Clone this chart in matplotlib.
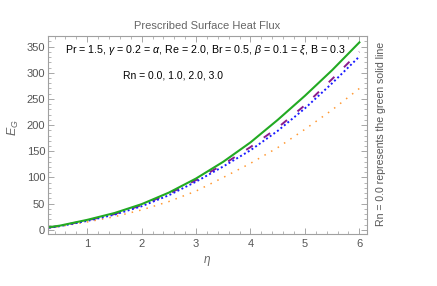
import matplotlib
matplotlib.use("Agg")
import matplotlib.pyplot as plt
from matplotlib.ticker import MultipleLocator

eta = [0.3, 0.5, 1.0, 1.5, 2.0, 2.5, 3.0, 3.5, 4.0, 4.5, 5.0, 5.5, 6.0]
eg_rn0 = [5, 8, 19, 32, 49, 71, 98, 130, 167, 210, 256, 305, 358]      # green solid
eg_rn1 = [4.5, 7.5, 18, 30, 47, 69, 95, 125, 158, 195, 238, 288, 340]  # purple dashed
eg_rn2 = [4, 7, 17, 29, 45, 66, 92, 121, 152, 189, 232, 280, 331]      # blue dotted
eg_rn3 = [4, 6.5, 15, 25, 38, 54, 74, 100, 127, 157, 192, 229, 270]    # orange dotted

xticks = [1, 2, 3, 4, 5, 6]
yticks = [0, 50, 100, 150, 200, 250, 300, 350]

title = "Prescribed Surface Heat Flux"
params = r"Pr = 1.5, $\gamma$ = 0.2 = $\alpha$, Re = 2.0, Br = 0.5, $\beta$ = 0.1 = $\xi$, B = 0.3"
rn_text = "Rn = 0.0, 1.0, 2.0, 3.0"
side_text = "Rn = 0.0 represents the green solid line"

plt.rcParams['font.family'] = ['Liberation Sans', 'DejaVu Sans']
plt.rcParams['mathtext.fontset'] = 'custom'
plt.rcParams['mathtext.rm'] = 'Liberation Sans'
plt.rcParams['mathtext.it'] = 'Liberation Sans:italic'
plt.rcParams['mathtext.bf'] = 'Liberation Sans:bold'
fig = plt.figure(figsize=(4.37, 2.86), dpi=100)
ax = fig.add_axes([0.1098, 0.1818, 0.730, 0.692])

ax.plot(eta, eg_rn3, color='#ff9933', lw=1.1, linestyle=(0, (1, 4)), dash_capstyle='butt')
ax.plot(eta, eg_rn1, color='#8b1a8b', lw=1.4, linestyle=(0, (4, 7)))
ax.plot(eta, eg_rn2, color='#1a1aff', lw=1.4, linestyle=(0, (1, 1.3)), dash_capstyle='butt')
ax.plot(eta, eg_rn0, color='#22aa22', lw=1.5)

ax.set_xlim(0.28, 6.14)
ax.set_ylim(-8, 370)
ax.set_xticks(xticks)
ax.set_yticks(yticks)
ax.xaxis.set_minor_locator(MultipleLocator(0.2))
ax.yaxis.set_minor_locator(MultipleLocator(10))
ax.tick_params(which='both', direction='in', top=True, right=True, colors='#999999',
               labelcolor='#555555', labelsize=8)
ax.tick_params(which='major', length=4, width=0.6)
ax.tick_params(which='minor', length=2, width=0.5)
ax.tick_params(axis='y', pad=2)
for s in ax.spines.values():
    s.set_color('#a0a0a0')
    s.set_linewidth(0.8)

ax.set_title(title, fontsize=8, color='#666666', pad=5)
ax.set_xlabel(r"$\eta$", fontsize=8.5, color='#666666', labelpad=4)
ax.set_ylabel(r"$E_G$", fontsize=9, color='#666666')
ax.yaxis.set_label_coords(-0.085, 0.54)

ax.text(0.052, 0.93, params, transform=ax.transAxes, fontsize=7.65, color='black',
        ha='left', va='center')
ax.text(0.235, 0.80, rn_text, transform=ax.transAxes, fontsize=7.5, color='black',
        ha='left', va='center')
fig.text(381 / 437, 1 - 134 / 286, side_text, rotation=90, fontsize=7.6, color='#555555',
         ha='center', va='center')

fig.savefig("out.png", dpi=100)
